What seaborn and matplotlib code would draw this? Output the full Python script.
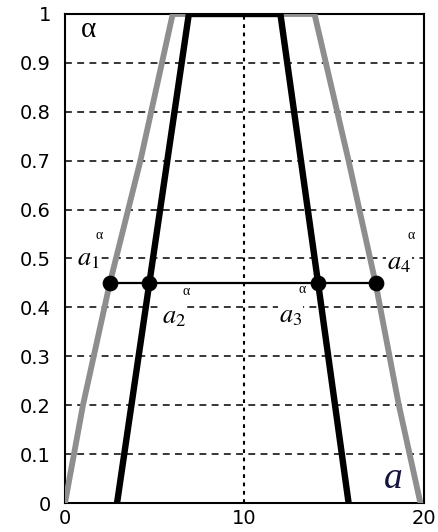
import matplotlib
matplotlib.use("Agg")
import matplotlib.pyplot as plt
import seaborn as sns
import pandas as pd

# Membership levels and abscissae of the two trapezoidal fuzzy numbers
outer_alpha = [0.0, 0.2, 0.45, 0.7, 1.0]
outer_left = [0.0, 1.0, 2.5, 4.2, 6.0]
outer_right = [19.8, 18.6, 17.3, 15.8, 13.9]

inner_alpha = [0.0, 0.45, 1.0]
inner_left = [2.9, 4.7, 6.9]
inner_right = [15.8, 14.1, 12.0]

# alpha-cut and its four end points
alpha_cut = 0.45
cut_points = [2.5, 4.7, 14.1, 17.3]
cut_labels = [r"$a_1$", r"$a_2$", r"$a_3$", r"$a_4$"]

x_ticks = [0, 10, 20]
y_ticks = [0, 0.1, 0.2, 0.3, 0.4, 0.5, 0.6, 0.7, 0.8, 0.9, 1]
y_tick_labels = ["0", "0.1", "0.2", "0.3", "0.4", "0.5", "0.6", "0.7", "0.8", "0.9", "1"]

sns.set_style("white")
plt.rcParams["font.family"] = ["DejaVu Sans"]
plt.rcParams["mathtext.fontset"] = "stix"
plt.rcParams["text.color"] = "black"

fig = plt.figure(figsize=(4.38, 5.32), dpi=100)
ax = fig.add_axes([0.1484, 0.0545, 0.8196, 0.9192])

outer = pd.DataFrame({
    "a": outer_left + outer_right[::-1],
    "alpha": outer_alpha + outer_alpha[::-1],
})
inner = pd.DataFrame({
    "a": inner_left + inner_right[::-1],
    "alpha": inner_alpha + inner_alpha[::-1],
})

# grid: dashed horizontals, dotted vertical at the middle
for y in y_ticks[1:-1]:
    ax.axhline(y, color="black", lw=1.1, ls=(0, (4.5, 3.5)), zorder=1)
ax.axvline(10, color="black", lw=1.5, ls=(0, (1.8, 2.2)), zorder=1)

sns.lineplot(data=outer, x="a", y="alpha", sort=False, estimator=None,
             color="#8e8e8e", lw=4.2, ax=ax, zorder=3)
sns.lineplot(data=inner, x="a", y="alpha", sort=False, estimator=None,
             color="black", lw=4.6, ax=ax, zorder=4)

cut = pd.DataFrame({"a": cut_points, "alpha": [alpha_cut] * len(cut_points)})
sns.lineplot(data=cut, x="a", y="alpha", color="black", lw=1.6, ax=ax, zorder=5)
sns.scatterplot(data=cut, x="a", y="alpha", color="black", s=110,
                edgecolor="black", ax=ax, zorder=6)

# labels of the cut points
label_pos = [(1.28, 0.501), (6.05, 0.382), (12.55, 0.384), (18.6, 0.493)]
alpha_pos = [(1.9, 0.548), (6.75, 0.432), (13.2, 0.436), (19.3, 0.548)]
for lab, (lx, ly), (px, py) in zip(cut_labels, label_pos, alpha_pos):
    ax.text(lx, ly, lab, fontsize=19, color="black", ha="center", va="center",
            zorder=7, bbox=dict(facecolor="white", edgecolor="none", pad=0.5))
    ax.text(px, py, "α", fontsize=10, family="Liberation Serif", color="black",
            ha="center", va="center", zorder=7)

ax.text(1.3, 0.968, "α", fontsize=21, family="Liberation Serif", color="black",
        ha="center", va="center")
ax.text(18.3, 0.05, "a", fontsize=27, family="Liberation Serif",
        style="italic", color="#14143c", ha="center", va="center")

ax.set_xlim(0, 20)
ax.set_ylim(0, 1)
ax.set_xticks(x_ticks)
ax.set_xticklabels([str(t) for t in x_ticks])
ax.set_yticks(y_ticks)
ax.set_yticklabels(y_tick_labels)
ax.tick_params(axis="both", length=0, labelsize=14, labelcolor="black", pad=10)
ax.tick_params(axis="x", pad=4)
ax.set_xlabel("")
ax.set_ylabel("")
for s in ax.spines.values():
    s.set_visible(True)
    s.set_color("black")
    s.set_linewidth(1.5)

fig.savefig("out.png", dpi=100)
